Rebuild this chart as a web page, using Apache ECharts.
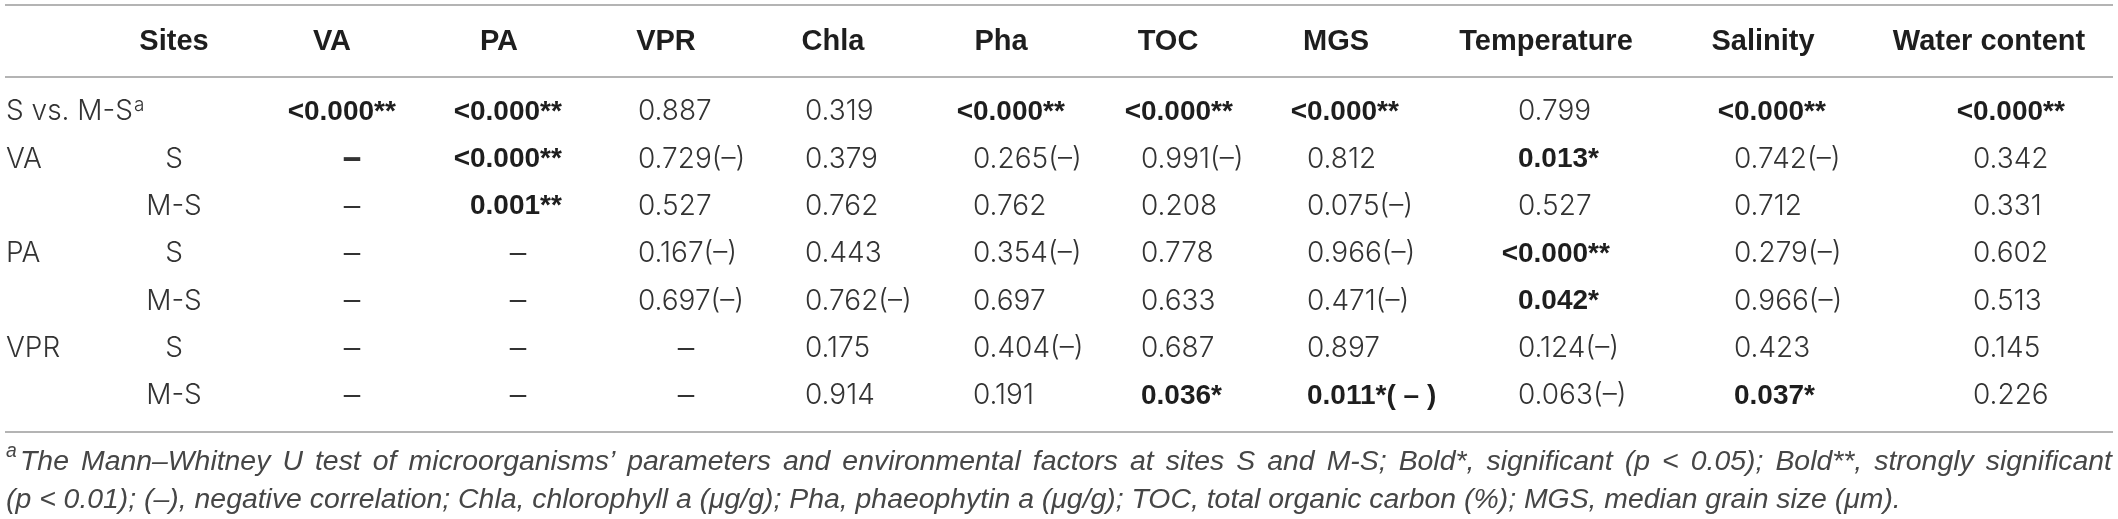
<!DOCTYPE html>
<html><head><meta charset="utf-8">
<script src="https://cdn.jsdelivr.net/npm/echarts@6/dist/echarts.min.js"></script>
<style>html,body{margin:0;padding:0;background:#fff}#c{width:2118px;height:519px}</style>
</head><body><div id="c"></div>
<script>
// ---------- data ----------
const columns = ['Sites', 'VA', 'PA', 'VPR', 'Chla', 'Pha', 'TOC', 'MGS', 'Temperature', 'Salinity', 'Water content'];
const rowGroups = ['S vs. M-S', 'VA', '', 'PA', '', 'VPR', ''];
const rowSites = ['', 'S', 'M-S', 'S', 'M-S', 'S', 'M-S'];
const VA = ['<0.000**', '–', '–', '–', '–', '–', '–'];
const PA = ['<0.000**', '<0.000**', '0.001**', '–', '–', '–', '–'];
const VPR = ['0.887', '0.729(–)', '0.527', '0.167(–)', '0.697(–)', '–', '–'];
const Chla = ['0.319', '0.379', '0.762', '0.443', '0.762(–)', '0.175', '0.914'];
const Pha = ['<0.000**', '0.265(–)', '0.762', '0.354(–)', '0.697', '0.404(–)', '0.191'];
const TOC = ['<0.000**', '0.991(–)', '0.208', '0.778', '0.633', '0.687', '0.036*'];
const MGS = ['<0.000**', '0.812', '0.075(–)', '0.966(–)', '0.471(–)', '0.897', '0.011*( – )'];
const Temperature = ['0.799', '0.013*', '0.527', '<0.000**', '0.042*', '0.124(–)', '0.063(–)'];
const Salinity = ['<0.000**', '0.742(–)', '0.712', '0.279(–)', '0.966(–)', '0.423', '0.037*'];
const WaterContent = ['<0.000**', '0.342', '0.331', '0.602', '0.513', '0.145', '0.226'];
const boldDashCells = [[0, 1]]; // [valueColumn, row]: the bold dash in VA / S
const footnoteMark = 'a';
const footnoteLine1 = 'The Mann–Whitney U test of microorganisms’ parameters and environmental factors at sites S and M-S; Bold*, significant (p < 0.05); Bold**, strongly significant';
const footnoteLine2 = '(p < 0.01); (–), negative correlation; Chla, chlorophyll a (μg/g); Pha, phaeophytin a (μg/g); TOC, total organic carbon (%); MGS, median grain size (μm).';

const valueColumns = [VA, PA, VPR, Chla, Pha, TOC, MGS, Temperature, Salinity, WaterContent];

// ---------- layout / style ----------
const W = 2118, H = 519;
const FONT = "'Liberation Sans', Arial, Helvetica, sans-serif";
const LIGHT = "Inter, 'Liberation Sans', sans-serif";
const HEAD_X = [174, 332, 499, 666, 833, 1001, 1168, 1336, 1546, 1763, 1989];
const VAL_LEFT = [304, 470, 638, 805, 973, 1141, 1307, 1518, 1734, 1973];
const DASH_SHIFT = 48;
const GROUP_X = 6;
const VAL_SIZE = 28, HEAD_SIZE = 29;
const VAL_COLOR = '#333333', HEAD_COLOR = '#1e1e1e', RULE_COLOR = '#b4b4b4', NOTE_COLOR = '#464646';

const cv = document.createElement('canvas').getContext('2d');
function measure(t, font) { cv.font = font; return cv.measureText(t).width; }

const cellData = [];
for (let c = 0; c < valueColumns.length; c++) for (let r = 0; r < rowSites.length; r++) cellData.push([c, r]);
const labelData = rowSites.map((_, r) => [0, r]);
const headData = columns.map((_, c) => [c, 0]);

function txt(text, x, y, opt) {
  return { type: 'text', style: Object.assign({ text, x, y, fill: VAL_COLOR, fontSize: VAL_SIZE, fontFamily: LIGHT, fontWeight: 300, align: 'left', verticalAlign: 'middle' }, opt || {}) };
}

// ---------- footnote (justified first line) ----------
const fnBase = 28;
const line2W = measure(footnoteLine2, `italic ${fnBase}px ${FONT}`);
const fnSize = fnBase * 1896 / line2W;
const fnFont = `italic ${fnSize}px ${FONT}`;
const words = footnoteLine1.split(' ');
const wordW = words.map(w => measure(w, fnFont));
const startX = 20, endX = 2112;
const gap = (endX - startX - wordW.reduce((a, b) => a + b, 0)) / (words.length - 1);
const fnStyle = { fill: NOTE_COLOR, fontSize: fnSize, fontFamily: FONT, fontStyle: 'italic', verticalAlign: 'middle' };
const footGraphics = [];
footGraphics.push({ type: 'text', style: Object.assign({}, fnStyle, { text: footnoteMark, x: 6, y: 452, fontSize: fnSize * 0.68 }) });
let fx = startX;
words.forEach((w, i) => {
  footGraphics.push({ type: 'text', style: Object.assign({}, fnStyle, { text: w, x: fx, y: 462 }) });
  fx += wordW[i] + gap;
});
footGraphics.push({ type: 'text', style: Object.assign({}, fnStyle, { text: footnoteLine2, x: 6, y: 500 }) });

const rules = [5, 77, 432].map(y => ({ type: 'line', shape: { x1: 5, y1: y, x2: 2113, y2: y }, style: { stroke: RULE_COLOR, lineWidth: 2 } }));

const chart = echarts.init(document.getElementById('c'), null, { renderer: 'canvas' });
chart.setOption({
  animation: false,
  backgroundColor: '#fff',
  grid: { left: 0, right: 0, top: 88.33, height: 331.33 },
  xAxis: { type: 'value', min: 0, max: W, show: false },
  yAxis: { type: 'category', inverse: true, data: rowSites.map((s, i) => (rowGroups[i] + ' ' + s).trim() || String(i)), show: false },
  graphic: rules.concat(footGraphics),
  series: [
    { // header row
      type: 'custom', data: headData, silent: true,
      renderItem(params, api) {
        const c = api.value(0);
        const y = api.coord([0, 0])[1] - 70;
        return txt(columns[c], HEAD_X[c], y, { align: 'center', fontWeight: 'bold', fontFamily: FONT, fontSize: HEAD_SIZE, fill: HEAD_COLOR });
      }
    },
    { // row labels
      type: 'custom', data: labelData, silent: true,
      renderItem(params, api) {
        const r = api.value(1);
        const y = api.coord([0, r])[1];
        const ch = [];
        if (rowGroups[r]) {
          ch.push(txt(rowGroups[r], GROUP_X, y));
          if (r === 0) {
            const w = measure(rowGroups[r], `300 ${VAL_SIZE}px ${LIGHT}`);
            ch.push(txt(footnoteMark, GROUP_X + w + 1, y - 7, { fontSize: 19 }));
          }
        }
        if (rowSites[r]) ch.push(txt(rowSites[r], HEAD_X[0], y, { align: 'center' }));
        return { type: 'group', children: ch };
      }
    },
    { // values
      type: 'custom', data: cellData, silent: true,
      renderItem(params, api) {
        const c = api.value(0), r = api.value(1);
        const v = valueColumns[c][r];
        const [x, y] = api.coord([VAL_LEFT[c], r]);
        if (v === '–') {
          const bold = boldDashCells.some(d => d[0] === c && d[1] === r);
          return txt('–', x + DASH_SHIFT, y, { align: 'center', fontSize: 33, fontWeight: bold ? 'bold' : 300 });
        }
        const bold = v.indexOf('*') >= 0;
        const o = bold ? { fontWeight: 'bold', fontFamily: FONT, fill: '#1e1e1e' } : {};
        if (v[0] === '<') {
          return { type: 'group', children: [
            txt('<', x, y, Object.assign({ align: 'right' }, o)),
            txt(v.slice(1), x, y, o)
          ] };
        }
        return txt(v, x, y, o);
      }
    }
  ]
});
</script></body></html>
